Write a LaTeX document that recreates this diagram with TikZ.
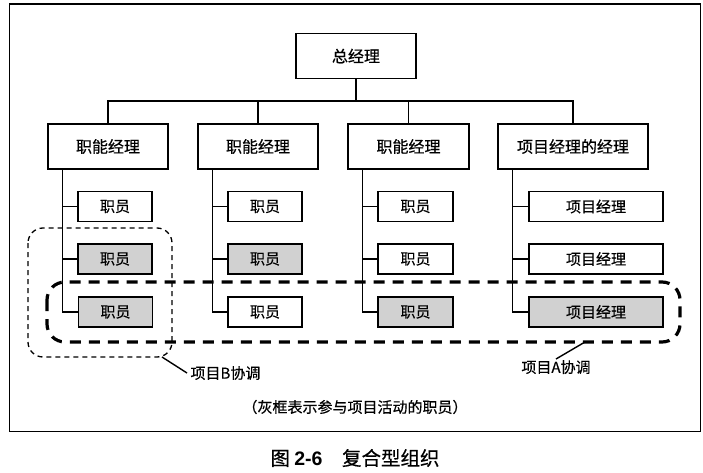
\documentclass[tikz,border=0pt]{standalone}
\usepackage{fontspec}
\setmainfont{Noto Sans CJK SC}[FakeBold=0.5]
\newfontfamily\latinfont{Liberation Sans}
\usepackage{tikz}

\begin{document}
\begin{tikzpicture}[x=1pt,y=-1pt]
    \tikzstyle{every node} = [font=\fontsize{16}{19}\selectfont]
    \tikzstyle{mgr} = [draw, rectangle, line width=1.6pt, minimum height=45pt, inner sep=0pt]
    \tikzstyle{staff} = [draw, rectangle, line width=1.6pt, minimum height=30pt, inner sep=0pt, font=\fontsize{15}{18}\selectfont]
    \tikzstyle{busy} = [staff, fill=black!18]
    \tikzstyle{link} = [line width=1.4pt]
    \useasboundingbox (0,0) rectangle (703,473);
    \draw[line width=1.8pt] (9.5,4) rectangle (700.5,431.5);

    % place nodes
    \node[mgr,minimum width=120pt](gm) at (356,56){总经理};
    \node[mgr,minimum width=120pt](fmA) at (108,146.5){职能经理};
    \node[mgr,minimum width=120pt](fmB) at (258,146.5){职能经理};
    \node[mgr,minimum width=121pt](fmC) at (408.5,146.5){职能经理};
    \node[mgr,minimum width=150pt](pmm) at (573,146.5){项目经理的经理};

    \node[staff,minimum width=74pt](sA1) at (115,206.5){职员};
    \node[busy,minimum width=74pt](sA2) at (115,259){职员};
    \node[busy,minimum width=74pt](sA3) at (115.5,312){职员};
    \node[staff,minimum width=74pt](sB1) at (265,206.5){职员};
    \node[busy,minimum width=74pt](sB2) at (265,259){职员};
    \node[staff,minimum width=74pt](sB3) at (265,312){职员};
    \node[staff,minimum width=75pt](sC1) at (415.5,206.5){职员};
    \node[staff,minimum width=75pt](sC2) at (415.5,259){职员};
    \node[busy,minimum width=75pt](sC3) at (415.5,312){职员};
    \node[staff,minimum width=134pt](pm1) at (596,206.5){项目经理};
    \node[staff,minimum width=134pt](pm2) at (596,259){项目经理};
    \node[busy,minimum width=134pt](pm3) at (596,312){项目经理};

    % Connections
    \coordinate (bus) at (356,101);
    \draw[link] (gm.south)--(bus);
    \draw[link] (fmA.north)--(fmA.north |- bus)-|(pmm.north);
    \draw[link] (fmB.north)--(fmB.north |- bus);
    \draw[link] (fmC.north)--(fmC.north |- bus);

    \coordinate (vA) at ([xshift=15pt]fmA.south west);
    \coordinate (vB) at ([xshift=15pt]fmB.south west);
    \coordinate (vC) at ([xshift=15pt]fmC.south west);
    \coordinate (vP) at ([xshift=15pt]pmm.south west);
    \draw[link] (vA)|-(sA3.west);
    \draw[link] (sA1.west)--(sA1.west -| vA);
    \draw[link] (sA2.west)--(sA2.west -| vA);
    \draw[link] (vB)|-(sB3.west);
    \draw[link] (sB1.west)--(sB1.west -| vB);
    \draw[link] (sB2.west)--(sB2.west -| vB);
    \draw[link] (vC)|-(sC3.west);
    \draw[link] (sC1.west)--(sC1.west -| vC);
    \draw[link] (sC2.west)--(sC2.west -| vC);
    \draw[link] (vP)|-(pm3.west);
    \draw[link] (pm1.west)--(pm1.west -| vP);
    \draw[link] (pm2.west)--(pm2.west -| vP);

    % project groups
    \draw[line width=1.3pt, dash pattern=on 5pt off 4pt, rounded corners=15pt] (28,228) rectangle (172,357);
    \draw[line width=3.2pt, dash pattern=on 11pt off 8pt, rounded corners=18pt] (47,282) rectangle (680,342);

    \node[anchor=west,font=\fontsize{15}{18}\selectfont](lblB) at (187,373){项目B协调};
    \coordinate (tipB) at (162,357);
    \draw[link] (tipB)--(lblB.west);
    \node[anchor=north,font=\fontsize{15}{18}\selectfont,inner sep=1pt](lblA) at (556,359){项目A协调};
    \coordinate (tipA) at (585,342);
    \draw[link] (tipA)--(lblA.north);

    \node[font=\fontsize{15}{18}\selectfont](note) at (355,407){（灰框表示参与项目活动的职员）};
    \node[font=\fontsize{19.5}{22}\selectfont](title) at (355,458){图 {\latinfont\bfseries 2-6}\quad 复合型组织};
\end{tikzpicture}
\end{document}
